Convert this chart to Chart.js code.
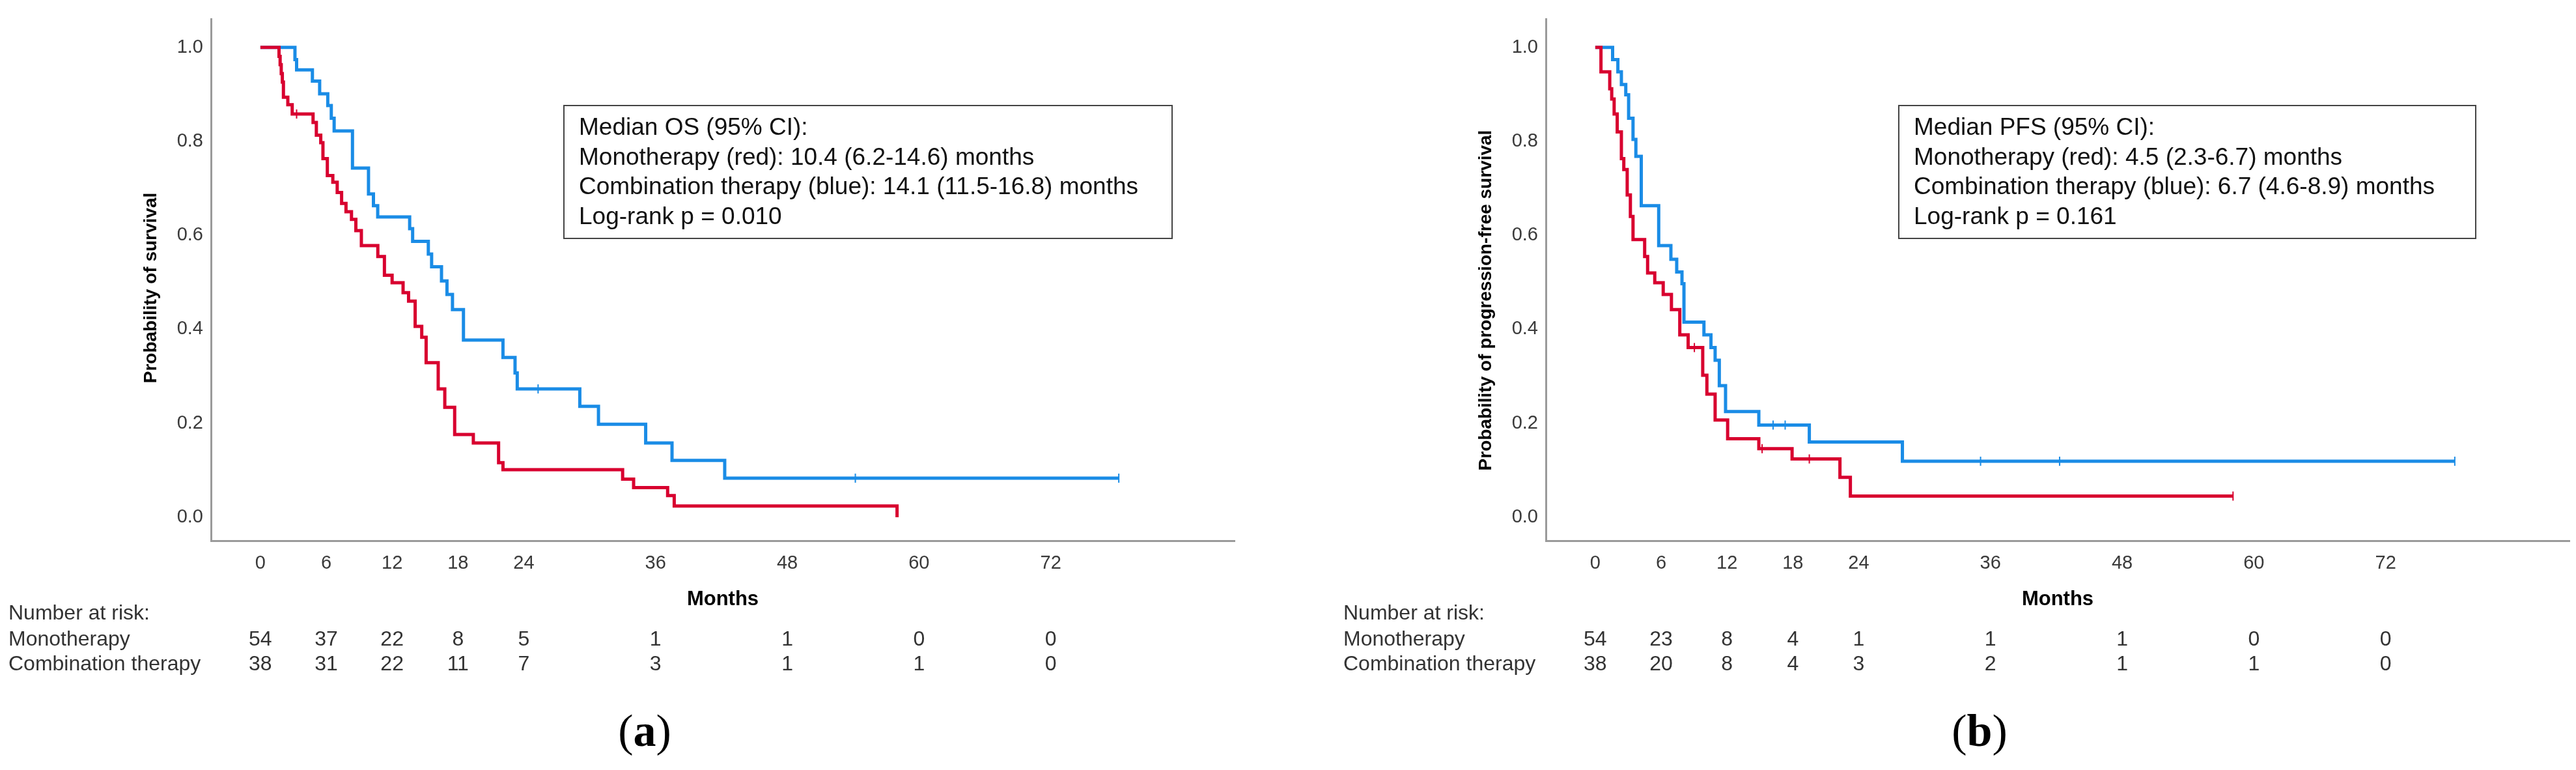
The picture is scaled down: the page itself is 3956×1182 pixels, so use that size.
<!DOCTYPE html>
<html>
<head>
<meta charset="utf-8">
<script src="https://cdn.jsdelivr.net/npm/chart.js@4.4.1/dist/chart.umd.min.js"></script>
<style>
  html, body { margin: 0; padding: 0; background: #fff; overflow: hidden; }
  .panel { position: absolute; top: 0; width: 1906px; height: 1182px; }
</style>
</head>
<body>
<div class="panel" style="left:0"><canvas id="osChart" width="1906" height="1182"></canvas></div>
<div class="panel" style="left:2050px"><canvas id="pfsChart" width="1906" height="1182"></canvas></div>
<script>
const monthTicks = [0, 6, 12, 18, 24, 36, 48, 60, 72];
const survivalTicks = [0, 0.2, 0.4, 0.6, 0.8, 1.0];

// number at risk, one value per month tick
const osRiskMono = [54, 37, 22, 8, 5, 1, 1, 0, 0];
const osRiskCombo = [38, 31, 22, 11, 7, 3, 1, 1, 0];
const pfsRiskMono = [54, 23, 8, 4, 1, 1, 1, 0, 0];
const pfsRiskCombo = [38, 20, 8, 4, 3, 2, 1, 1, 0];

// overall survival, monotherapy (red)
const osMonoTime = [0, 1.7, 1.8, 1.9, 2.0, 2.1, 2.5, 2.9, 4.8, 5.1, 5.5, 5.7, 6.1, 6.6, 7.0, 7.4, 7.8, 8.3, 8.7, 9.2, 10.7, 11.3, 12.0, 13.0, 13.5, 14.1, 14.7, 15.1, 16.2, 16.8, 17.7, 19.4, 21.7, 22.1, 33.0, 34.0, 37.1, 37.7, 58.0];
const osMonoSurv = [1, 0.981, 0.963, 0.944, 0.926, 0.894, 0.878, 0.858, 0.840, 0.813, 0.797, 0.763, 0.727, 0.713, 0.691, 0.668, 0.650, 0.634, 0.610, 0.578, 0.555, 0.515, 0.499, 0.478, 0.460, 0.406, 0.383, 0.329, 0.273, 0.234, 0.176, 0.158, 0.116, 0.101, 0.081, 0.063, 0.046, 0.024, 0];
const osMonoCensTime = [3.3];
const osMonoCensSurv = [0.858];

// overall survival, combination (blue)
const osComboTime = [0, 3.15, 3.3, 4.74, 5.4, 6.14, 6.46, 6.72, 8.39, 9.85, 10.3, 10.69, 13.6, 13.87, 15.3, 15.6, 16.5, 17.0, 17.5, 18.5, 22.1, 23.2, 23.4, 29.1, 30.8, 35.1, 37.5, 42.3, 78.2];
const osComboSurv = [1, 0.974, 0.952, 0.928, 0.901, 0.876, 0.849, 0.822, 0.743, 0.688, 0.663, 0.639, 0.614, 0.587, 0.560, 0.533, 0.503, 0.474, 0.442, 0.377, 0.340, 0.307, 0.273, 0.236, 0.198, 0.158, 0.121, 0.083, 0.083];
const osComboCensTime = [25.3, 54.2, 78.2];
const osComboCensSurv = [0.273, 0.083, 0.083];

// progression-free survival, monotherapy (red)
const pfsMonoTime = [0, 0.52, 1.32, 1.5, 1.72, 2.0, 2.38, 2.6, 2.91, 3.2, 3.44, 4.5, 4.77, 5.42, 6.19, 6.94, 7.7, 8.46, 9.79, 10.17, 10.92, 12.06, 14.9, 17.93, 22.29, 23.24, 58.1];
const pfsMonoSurv = [1, 0.948, 0.912, 0.890, 0.858, 0.820, 0.763, 0.740, 0.686, 0.640, 0.591, 0.555, 0.520, 0.499, 0.474, 0.442, 0.388, 0.361, 0.302, 0.262, 0.207, 0.167, 0.146, 0.124, 0.085, 0.045, 0.045];
const pfsMonoCensTime = [9.03, 15.2, 19.5, 58.1];
const pfsMonoCensSurv = [0.361, 0.146, 0.124, 0.045];

// progression-free survival, combination (blue)
const pfsComboTime = [0, 1.58, 2.06, 2.38, 2.78, 3.04, 3.44, 3.7, 4.19, 5.78, 6.89, 7.42, 7.9, 8.08, 9.9, 10.54, 10.92, 11.3, 11.87, 14.9, 19.5, 27.98, 78.3];
const pfsComboSurv = [1, 0.974, 0.948, 0.921, 0.899, 0.849, 0.804, 0.768, 0.663, 0.578, 0.549, 0.522, 0.497, 0.415, 0.388, 0.361, 0.334, 0.280, 0.225, 0.196, 0.160, 0.119, 0.119];
const pfsComboCensTime = [16.2, 17.3, 35.1, 42.3, 78.3];
const pfsComboCensSurv = [0.196, 0.196, 0.119, 0.119, 0.119];

const RED = '#d8002f';
const BLUE = '#1a8ce6';
const SANS = '"Liberation Sans", Arial, sans-serif';

Chart.defaults.font.family = SANS;

function points(times, survs) {
    return times.map((t, i) => ({ x: t, y: survs[i] }));
}

const kmDecor = {
    id: 'kmDecor',
    afterDraw(chart, args, opts) {
        const ctx = chart.ctx;
        const xScale = chart.scales.x;
        const area = chart.chartArea;
        ctx.save();

        // y axis title
        ctx.fillStyle = '#000';
        ctx.font = 'bold 28px ' + SANS;
        ctx.textAlign = 'center';
        ctx.textBaseline = 'middle';
        ctx.save();
        ctx.translate(232, opts.yTitleY);
        ctx.rotate(-Math.PI / 2);
        ctx.fillText(opts.yTitle, 0, 0);
        ctx.restore();

        // x axis title
        ctx.font = 'bold 31px ' + SANS;
        ctx.fillText('Months', (area.left + area.right) / 2, 920);

        // number at risk
        ctx.fillStyle = '#333';
        ctx.font = '32px ' + SANS;
        ctx.textAlign = 'left';
        ctx.fillText('Number at risk:', 13, 942);
        ctx.fillText('Monotherapy', 13, 982);
        ctx.fillText('Combination therapy', 13, 1020);
        ctx.textAlign = 'center';
        monthTicks.forEach((m, i) => {
            const px = xScale.getPixelForValue(m);
            ctx.fillText(String(opts.riskMono[i]), px, 982);
            ctx.fillText(String(opts.riskCombo[i]), px, 1020);
        });

        // median box
        ctx.strokeStyle = '#444';
        ctx.lineWidth = 2;
        ctx.fillStyle = '#fff';
        ctx.fillRect(866, 162, opts.boxWidth, 204);
        ctx.strokeRect(866, 162, opts.boxWidth, 204);
        ctx.fillStyle = '#111';
        ctx.font = '37px ' + SANS;
        ctx.textAlign = 'left';
        opts.boxLines.forEach((line, i) => {
            ctx.fillText(line, 889, 197 + i * 45.5);
        });

        // panel label
        ctx.fillStyle = '#000';
        const serif = '"Liberation Serif", "Times New Roman", serif';
        ctx.font = '70px ' + serif;
        const wOpen = ctx.measureText('(').width;
        ctx.font = 'bold 70px ' + serif;
        const wMid = ctx.measureText(opts.panel).width;
        const total = wOpen * 2 + wMid;
        const lx = 990 - total / 2;
        ctx.textAlign = 'left';
        ctx.font = '70px ' + serif;
        ctx.fillText('(', lx, 1127);
        ctx.font = 'bold 70px ' + serif;
        ctx.fillText(opts.panel, lx + wOpen, 1127);
        ctx.font = '70px ' + serif;
        ctx.fillText(')', lx + wOpen + wMid, 1127);

        ctx.restore();
    }
};

function makeKm(canvasId, d) {
    const ctx = document.getElementById(canvasId).getContext('2d');
    return new Chart(ctx, {
        type: 'scatter',
        data: {
            datasets: [
                {
                    label: 'Monotherapy censored',
                    data: points(d.monoCensTime, d.monoCensSurv),
                    showLine: false,
                    pointStyle: 'line',
                    rotation: 90,
                    pointRadius: 7,
                    borderColor: RED,
                    borderWidth: 2,
                    order: 0
                },
                {
                    label: 'Combination therapy censored',
                    data: points(d.comboCensTime, d.comboCensSurv),
                    showLine: false,
                    pointStyle: 'line',
                    rotation: 90,
                    pointRadius: 7,
                    borderColor: BLUE,
                    borderWidth: 2,
                    order: 1
                },
                {
                    label: 'Monotherapy',
                    data: points(d.monoTime, d.monoSurv),
                    showLine: true,
                    stepped: true,
                    pointRadius: 0,
                    borderColor: RED,
                    borderWidth: 5,
                    order: 2
                },
                {
                    label: 'Combination therapy',
                    data: points(d.comboTime, d.comboSurv),
                    showLine: true,
                    stepped: true,
                    pointRadius: 0,
                    borderColor: BLUE,
                    borderWidth: 5,
                    order: 3
                }
            ]
        },
        options: {
            responsive: false,
            animation: false,
            devicePixelRatio: 1,
            layout: { padding: { left: 0, top: 10, right: 10, bottom: 292 } },
            plugins: {
                legend: { display: false },
                tooltip: { enabled: false },
                kmDecor: d.decor
            },
            scales: {
                x: {
                    type: 'linear',
                    min: -4.5,
                    max: 88.75,
                    afterBuildTicks: axis => { axis.ticks = monthTicks.map(v => ({ value: v })); },
                    afterFit: axis => { axis.height = 60; },
                    grid: { display: false, drawTicks: false },
                    border: { display: true, color: '#9a9a9a', width: 3 },
                    ticks: {
                        autoSkip: false,
                        maxRotation: 0,
                        padding: 18,
                        color: '#3a3a3a',
                        font: { size: 29 }
                    }
                },
                y: {
                    min: -0.05,
                    max: 1.06,
                    afterBuildTicks: axis => { axis.ticks = survivalTicks.map(v => ({ value: v })); },
                    afterFit: axis => { axis.width = 324; },
                    grid: { display: false, drawTicks: false },
                    border: { display: true, color: '#9a9a9a', width: 3 },
                    ticks: {
                        padding: 12,
                        color: '#3a3a3a',
                        font: { size: 29 },
                        callback: v => v.toFixed(1)
                    }
                }
            }
        },
        plugins: [kmDecor]
    });
}

makeKm('osChart', {
    monoTime: osMonoTime, monoSurv: osMonoSurv,
    monoCensTime: osMonoCensTime, monoCensSurv: osMonoCensSurv,
    comboTime: osComboTime, comboSurv: osComboSurv,
    comboCensTime: osComboCensTime, comboCensSurv: osComboCensSurv,
    decor: {
        yTitle: 'Probability of survival',
        yTitleY: 442,
        riskMono: osRiskMono,
        riskCombo: osRiskCombo,
        boxWidth: 934,
        boxLines: [
            'Median OS (95% CI):',
            'Monotherapy (red): 10.4 (6.2-14.6) months',
            'Combination therapy (blue): 14.1 (11.5-16.8) months',
            'Log-rank p = 0.010'
        ],
        panel: 'a'
    }
});

makeKm('pfsChart', {
    monoTime: pfsMonoTime, monoSurv: pfsMonoSurv,
    monoCensTime: pfsMonoCensTime, monoCensSurv: pfsMonoCensSurv,
    comboTime: pfsComboTime, comboSurv: pfsComboSurv,
    comboCensTime: pfsComboCensTime, comboCensSurv: pfsComboCensSurv,
    decor: {
        yTitle: 'Probability of progression-free survival',
        yTitleY: 461,
        riskMono: pfsRiskMono,
        riskCombo: pfsRiskCombo,
        boxWidth: 886,
        boxLines: [
            'Median PFS (95% CI):',
            'Monotherapy (red): 4.5 (2.3-6.7) months',
            'Combination therapy (blue): 6.7 (4.6-8.9) months',
            'Log-rank p = 0.161'
        ],
        panel: 'b'
    }
});
</script>
</body>
</html>
